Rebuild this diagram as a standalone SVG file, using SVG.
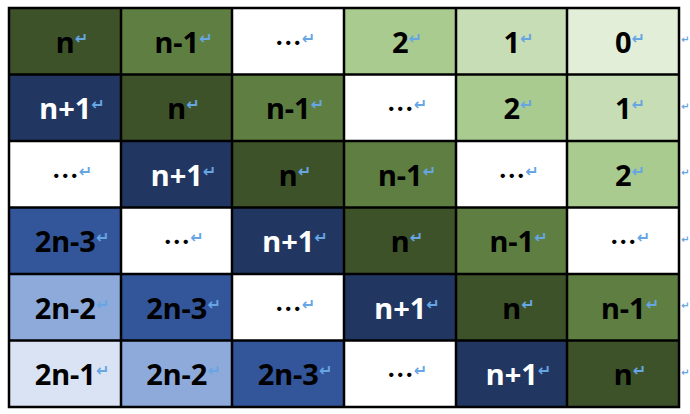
<svg xmlns="http://www.w3.org/2000/svg" width="690" height="414" viewBox="0 0 690 414">
<style>
.dg{fill:#3e5229}.mg{fill:#5e7f41}.w{fill:#ffffff}.l4{fill:#aacb8f}.l6{fill:#c7ddb5}.l8{fill:#e3eed9}
.nv{fill:#213762}.b2{fill:#33559a}.b3{fill:#8eaadb}.b4{fill:#dae3f3}
.t{font-family:"Noto Sans","Open Sans",sans-serif;font-weight:bold;font-size:29px;fill:#000;text-anchor:middle}
.tw{fill:#fff}
.e{font-family:"Noto Sans CJK SC",sans-serif;font-size:27px;font-weight:bold}
.pm{font-family:"DejaVu Sans",sans-serif;font-size:16px;font-weight:bold;fill:#67a5e3}
.re{font-family:"DejaVu Sans",sans-serif;font-size:10px;font-weight:bold;fill:#67a5e3}
.grid{fill:none;stroke:#000;stroke-width:2.5}
</style>
<rect width="690" height="414" fill="#fff"/>
<g id="cells">
<g id="r0c0"><rect class="dg" x="9" y="8" width="112" height="66.5"/><text class="t" x="72" y="52.7">n<tspan class="pm" dy="-9">↵</tspan></text></g>
<g id="r0c1"><rect class="mg" x="121" y="8" width="111" height="66.5"/><text class="t" x="183.5" y="52.7">n-1<tspan class="pm" dy="-9">↵</tspan></text></g>
<g id="r0c2"><rect class="w" x="232" y="8" width="112" height="66.5"/><text class="t" x="295" y="52.7"><tspan class="e">…</tspan><tspan class="pm" dy="-9">↵</tspan></text></g>
<g id="r0c3"><rect class="l4" x="344" y="8" width="112" height="66.5"/><text class="t" x="407" y="52.7">2<tspan class="pm" dy="-9">↵</tspan></text></g>
<g id="r0c4"><rect class="l6" x="456" y="8" width="111" height="66.5"/><text class="t" x="518.5" y="52.7">1<tspan class="pm" dy="-9">↵</tspan></text></g>
<g id="r0c5"><rect class="l8" x="567" y="8" width="112" height="66.5"/><text class="t" x="630" y="52.7">0<tspan class="pm" dy="-9">↵</tspan></text></g>

<g id="r1c0"><rect class="nv" x="9" y="74.5" width="112" height="66.5"/><text class="t tw" x="72" y="119.2">n+1<tspan class="pm" dy="-9">↵</tspan></text></g>
<g id="r1c1"><rect class="dg" x="121" y="74.5" width="111" height="66.5"/><text class="t" x="183.5" y="119.2">n<tspan class="pm" dy="-9">↵</tspan></text></g>
<g id="r1c2"><rect class="mg" x="232" y="74.5" width="112" height="66.5"/><text class="t" x="295" y="119.2">n-1<tspan class="pm" dy="-9">↵</tspan></text></g>
<g id="r1c3"><rect class="w" x="344" y="74.5" width="112" height="66.5"/><text class="t" x="407" y="119.2"><tspan class="e">…</tspan><tspan class="pm" dy="-9">↵</tspan></text></g>
<g id="r1c4"><rect class="l4" x="456" y="74.5" width="111" height="66.5"/><text class="t" x="518.5" y="119.2">2<tspan class="pm" dy="-9">↵</tspan></text></g>
<g id="r1c5"><rect class="l6" x="567" y="74.5" width="112" height="66.5"/><text class="t" x="630" y="119.2">1<tspan class="pm" dy="-9">↵</tspan></text></g>

<g id="r2c0"><rect class="w" x="9" y="141" width="112" height="66.5"/><text class="t" x="72" y="185.7"><tspan class="e">…</tspan><tspan class="pm" dy="-9">↵</tspan></text></g>
<g id="r2c1"><rect class="nv" x="121" y="141" width="111" height="66.5"/><text class="t tw" x="183.5" y="185.7">n+1<tspan class="pm" dy="-9">↵</tspan></text></g>
<g id="r2c2"><rect class="dg" x="232" y="141" width="112" height="66.5"/><text class="t" x="295" y="185.7">n<tspan class="pm" dy="-9">↵</tspan></text></g>
<g id="r2c3"><rect class="mg" x="344" y="141" width="112" height="66.5"/><text class="t" x="407" y="185.7">n-1<tspan class="pm" dy="-9">↵</tspan></text></g>
<g id="r2c4"><rect class="w" x="456" y="141" width="111" height="66.5"/><text class="t" x="518.5" y="185.7"><tspan class="e">…</tspan><tspan class="pm" dy="-9">↵</tspan></text></g>
<g id="r2c5"><rect class="l4" x="567" y="141" width="112" height="66.5"/><text class="t" x="630" y="185.7">2<tspan class="pm" dy="-9">↵</tspan></text></g>

<g id="r3c0"><rect class="b2" x="9" y="207.5" width="112" height="66.5"/><text class="t" x="72" y="252.2">2n-3<tspan class="pm" dy="-9">↵</tspan></text></g>
<g id="r3c1"><rect class="w" x="121" y="207.5" width="111" height="66.5"/><text class="t" x="183.5" y="252.2"><tspan class="e">…</tspan><tspan class="pm" dy="-9">↵</tspan></text></g>
<g id="r3c2"><rect class="nv" x="232" y="207.5" width="112" height="66.5"/><text class="t tw" x="295" y="252.2">n+1<tspan class="pm" dy="-9">↵</tspan></text></g>
<g id="r3c3"><rect class="dg" x="344" y="207.5" width="112" height="66.5"/><text class="t" x="407" y="252.2">n<tspan class="pm" dy="-9">↵</tspan></text></g>
<g id="r3c4"><rect class="mg" x="456" y="207.5" width="111" height="66.5"/><text class="t" x="518.5" y="252.2">n-1<tspan class="pm" dy="-9">↵</tspan></text></g>
<g id="r3c5"><rect class="w" x="567" y="207.5" width="112" height="66.5"/><text class="t" x="630" y="252.2"><tspan class="e">…</tspan><tspan class="pm" dy="-9">↵</tspan></text></g>

<g id="r4c0"><rect class="b3" x="9" y="274" width="112" height="66.5"/><text class="t" x="72" y="318.7">2n-2<tspan class="pm" dy="-9">↵</tspan></text></g>
<g id="r4c1"><rect class="b2" x="121" y="274" width="111" height="66.5"/><text class="t" x="183.5" y="318.7">2n-3<tspan class="pm" dy="-9">↵</tspan></text></g>
<g id="r4c2"><rect class="w" x="232" y="274" width="112" height="66.5"/><text class="t" x="295" y="318.7"><tspan class="e">…</tspan><tspan class="pm" dy="-9">↵</tspan></text></g>
<g id="r4c3"><rect class="nv" x="344" y="274" width="112" height="66.5"/><text class="t tw" x="407" y="318.7">n+1<tspan class="pm" dy="-9">↵</tspan></text></g>
<g id="r4c4"><rect class="dg" x="456" y="274" width="111" height="66.5"/><text class="t" x="518.5" y="318.7">n<tspan class="pm" dy="-9">↵</tspan></text></g>
<g id="r4c5"><rect class="mg" x="567" y="274" width="112" height="66.5"/><text class="t" x="630" y="318.7">n-1<tspan class="pm" dy="-9">↵</tspan></text></g>

<g id="r5c0"><rect class="b4" x="9" y="340.5" width="112" height="66.5"/><text class="t" x="72" y="385.2">2n-1<tspan class="pm" dy="-9">↵</tspan></text></g>
<g id="r5c1"><rect class="b3" x="121" y="340.5" width="111" height="66.5"/><text class="t" x="183.5" y="385.2">2n-2<tspan class="pm" dy="-9">↵</tspan></text></g>
<g id="r5c2"><rect class="b2" x="232" y="340.5" width="112" height="66.5"/><text class="t" x="295" y="385.2">2n-3<tspan class="pm" dy="-9">↵</tspan></text></g>
<g id="r5c3"><rect class="w" x="344" y="340.5" width="112" height="66.5"/><text class="t" x="407" y="385.2"><tspan class="e">…</tspan><tspan class="pm" dy="-9">↵</tspan></text></g>
<g id="r5c4"><rect class="nv" x="456" y="340.5" width="111" height="66.5"/><text class="t tw" x="518.5" y="385.2">n+1<tspan class="pm" dy="-9">↵</tspan></text></g>
<g id="r5c5"><rect class="dg" x="567" y="340.5" width="112" height="66.5"/><text class="t" x="630" y="385.2">n<tspan class="pm" dy="-9">↵</tspan></text></g>
</g>
<g id="grid">
<path class="grid" d="M9 8H679V407H9Z M121 8V407 M232 8V407 M344 8V407 M456 8V407 M567 8V407 M9 74.5H679 M9 141H679 M9 207.5H679 M9 274H679 M9 340.5H679"/>
</g>
<g id="row-ends">
<text class="re" x="681" y="43">↵</text>
<text class="re" x="681" y="109.5">↵</text>
<text class="re" x="681" y="176">↵</text>
<text class="re" x="681" y="242.5">↵</text>
<text class="re" x="681" y="309">↵</text>
<text class="re" x="681" y="375.5">↵</text>
</g>
</svg>
